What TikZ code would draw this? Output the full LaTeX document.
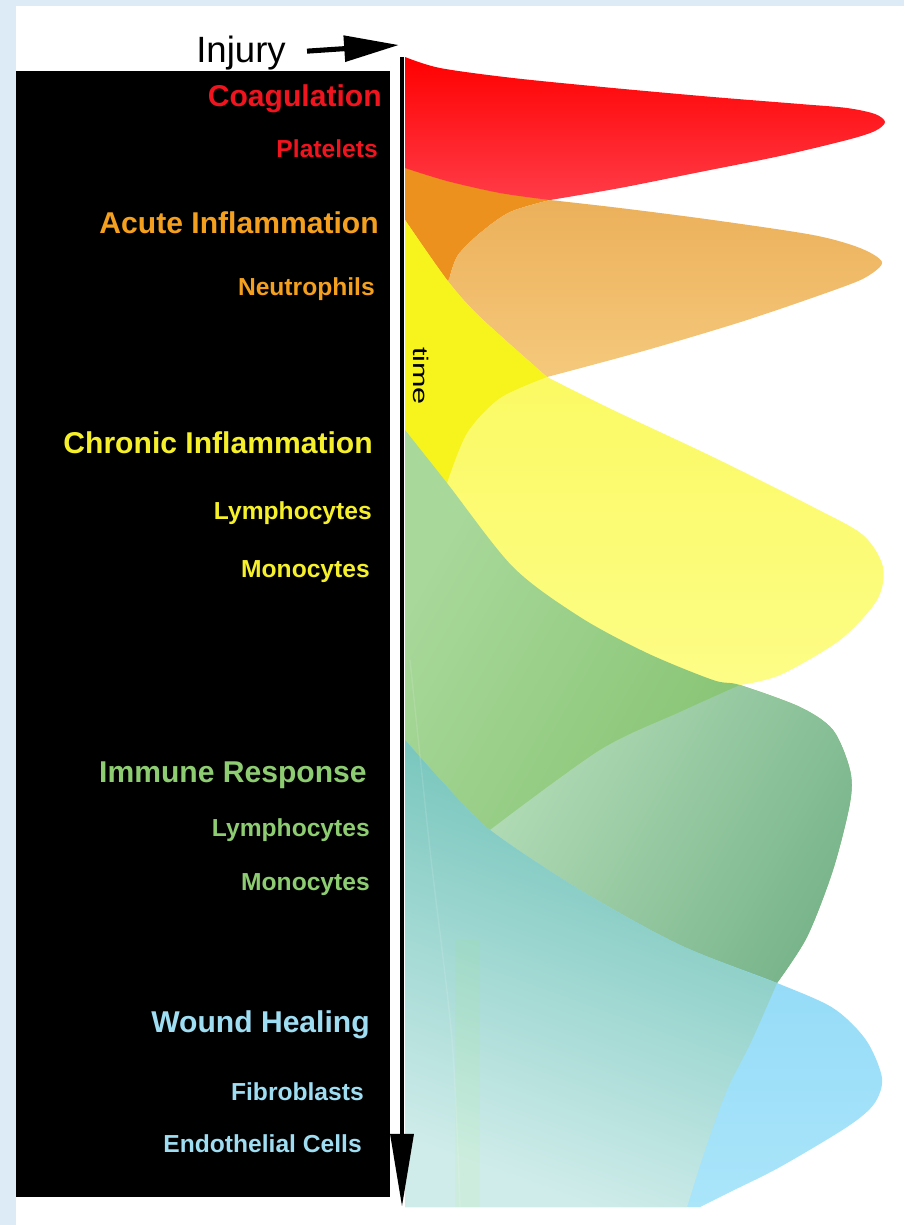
\documentclass[tikz,border=0pt]{standalone}
\usepackage{fontspec}
\setmainfont{Liberation Sans}
\usetikzlibrary{positioning,arrows.meta}
\definecolor{frameBlue}{HTML}{DCEBF6}
\definecolor{coagRed}{HTML}{F0141E}
\definecolor{acuteOrange}{HTML}{F4A01E}
\definecolor{chronicYellow}{HTML}{F6F02A}
\definecolor{immuneGreen}{HTML}{8ECC72}
\definecolor{healBlue}{HTML}{9EDDF2}
\definecolor{redTop}{HTML}{FF0000}
\definecolor{redBot}{HTML}{FF3C48}
\definecolor{orangeBack}{HTML}{EC901E}
\definecolor{orangeTop}{HTML}{ECB05A}
\definecolor{orangeBot}{HTML}{F6CC80}
\definecolor{yellowBack}{HTML}{F7F31C}
\definecolor{yellowTop}{HTML}{FAF852}
\definecolor{yellowBot}{HTML}{FDFD8A}
\definecolor{greenDark}{HTML}{7ABC64}
\definecolor{greenLight}{HTML}{A8D89A}
\definecolor{frontDark}{HTML}{78B48A}
\definecolor{frontLight}{HTML}{B2DCB6}
\definecolor{tealTop}{HTML}{6AC0B6}
\definecolor{tealBot}{HTML}{CFECEA}
\definecolor{skyTop}{HTML}{80D2F5}
\definecolor{skyBot}{HTML}{AAE5FA}
\tikzset{
  phase/.style={anchor=base east, inner sep=0pt,
                font=\bfseries\fontsize{21.4}{24}\selectfont},
  celltype/.style={anchor=base east, inner sep=0pt,
                font=\bfseries\fontsize{17.5}{20}\selectfont},
  timeaxis/.style={-{Triangle[length=52pt,width=16pt]}, line width=3.5pt, draw=black},
  injuryarrow/.style={-{Triangle[length=39pt,width=18pt]}, line width=3.6pt, draw=black}
}

\begin{document}
\begin{tikzpicture}[x=0.025cm, y=-0.025cm]
\useasboundingbox (0,0) rectangle (904,1225);
\fill[frameBlue] (0,0) rectangle (904,1225);
\fill[white] (16,6) rectangle (904,1225);
\fill[black] (16,71) rectangle (390,1197);

% acute inflammation ribbon
\fill[orangeBack]
  (405,150) -- (405,300) -- (450,300)
  -- plot[smooth] coordinates {(450,276) (458,255) (480,233) (510,212) (550,200)}
  -- (550,180) -- cycle;
\path[top color=orangeTop, bottom color=orangeBot]
  (550,200) -- plot[smooth] coordinates {(550,200) (620,208) (713,220) (813,235) (860,248) (882,262)
    (868,276) (840,288) (747,320) (647,350) (547,377)}
  -- (520,400) -- (440,300)
  -- plot[smooth] coordinates {(450,276) (458,255) (480,233) (510,212) (550,200)} -- cycle;

% chronic inflammation ribbon
\path[top color=yellowTop, bottom color=yellowBot]
  (547,377) -- plot[smooth] coordinates {(547,377) (613,410) (713,457) (813,507) (863,535) (883,567)
    (877,600) (840,640) (780,675) (740,685)}
  -- (700,720) -- (405,600) -- (405,220)
  -- plot[smooth] coordinates {(405,220) (447,280) (480,317) (547,377)} -- cycle;
\fill[yellowBack]
  (405,220) -- plot[smooth] coordinates {(405,220) (447,280) (480,317) (547,377)}
  -- plot[smooth] coordinates {(547,377) (500,398) (467,433) (447,483)}
  -- (440,530) -- (405,530) -- cycle;

% immune response ribbon
\path[left color=greenLight, right color=greenDark, shading angle=60]
  (405,430) -- plot[smooth] coordinates {(405,430) (447,483) (513,567) (580,617) (647,653) (713,680)
    (740,685) (800,707) (833,730) (850,770) (850,803) (833,870) (807,937) (777,983)}
  -- (700,1000) -- (405,900) -- cycle;
\path[left color=frontLight, right color=frontDark, shading angle=60]
  (740,685) -- plot[smooth] coordinates {(740,685) (800,707) (833,730) (850,770) (850,803) (833,870)
    (807,937) (777,983)}
  -- (700,1000) -- (480,880)
  -- plot[smooth] coordinates {(490,830) (600,750) (680,712) (740,685)} -- cycle;

% wound healing ribbon
\path[top color=skyTop, bottom color=skyBot]
  (405,740) -- plot[smooth] coordinates {(405,740) (447,787) (490,830) (580,890) (680,945) (777,983)
    (833,1008) (866,1040) (882,1078) (874,1104) (847,1127) (780,1167) (730,1192) (700,1207)}
  -- (405,1207) -- cycle;
\path[top color=tealTop, bottom color=tealBot, shading angle=-20]
  (405,740) -- plot[smooth] coordinates {(405,740) (447,787) (490,830) (580,890) (680,945) (777,983)}
  -- plot[smooth] coordinates {(777,983) (752,1040) (727,1090) (705,1150) (687,1207)}
  -- (405,1207) -- cycle;
\fill[green!40!yellow, opacity=.05] (455,940) rectangle (480,1207);
\draw[white, opacity=.12, line width=1pt] plot[smooth] coordinates {(410,660) (430,850) (452,1040) (460,1207)};

% coagulation ribbon
\path[top color=redTop, middle color=redTop, bottom color=redBot]
  (405,57) -- plot[smooth] coordinates {(405,57) (440,68) (513,78) (613,88) (713,97) (800,104)
    (847,108) (875,114) (885,122) (875,131) (847,140) (780,156) (700,172) (620,188) (550,200)}
  -- plot[smooth] coordinates {(550,200) (500,193) (447,181) (405,168)} -- cycle;

% time axis
\coordinate (t0) at (402,57);
\coordinate (t1) at (402,1207);
\draw[timeaxis] (t0) -- (t1);
\node[rotate=-90, inner sep=0pt, font=\fontsize{15}{18}\selectfont] (timelbl) at (421,376)
  {\scalebox{1.45}[1]{time}};

% injury
\node[anchor=base east, inner sep=0pt, font=\fontsize{26}{30}\selectfont] (injury) at (286,62) {Injury};
\coordinate (injtip) at (399,45);
\draw[injuryarrow, shorten <=15pt] (injury.east) -- (injtip);

% phases
\node[phase, text=coagRed] (coag) at (382,106) {Coagulation};
\node[celltype, text=coagRed] (platelets) at (378,157) {Platelets};
\node[phase, text=acuteOrange] (acute) at (379,233) {Acute Inflammation};
\node[celltype, text=acuteOrange] (neutro) at (375,295) {Neutrophils};
\node[phase, text=chronicYellow] (chronic) at (373,453) {Chronic Inflammation};
\node[celltype, text=chronicYellow] (lymphA) at (372,519) {Lymphocytes};
\node[celltype, text=chronicYellow] (monoA) at (370,577) {Monocytes};
\node[phase, text=immuneGreen] (immune) at (367,782) {Immune Response};
\node[celltype, text=immuneGreen] (lymphB) at (370,836) {Lymphocytes};
\node[celltype, text=immuneGreen] (monoB) at (370,890) {Monocytes};
\node[phase, text=healBlue] (wound) at (370,1032) {Wound Healing};
\node[celltype, text=healBlue] (fibro) at (364,1100) {Fibroblasts};
\node[celltype, text=healBlue] (endo) at (362,1152) {Endothelial Cells};
\end{tikzpicture}
\end{document}
